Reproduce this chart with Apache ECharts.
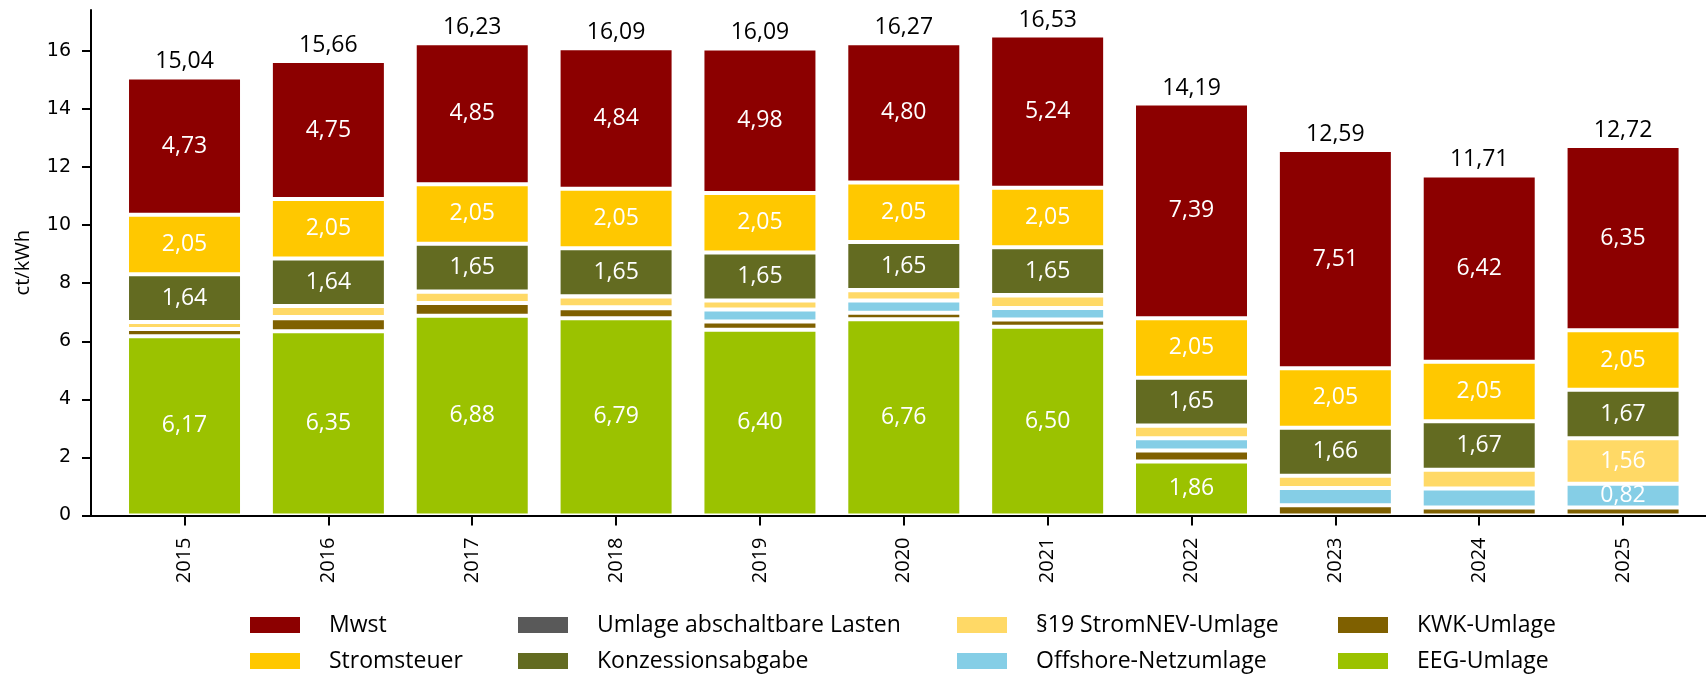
<!DOCTYPE html>
<html>
<head>
<meta charset="utf-8">
<script src="https://cdn.jsdelivr.net/npm/echarts@6/dist/echarts.min.js"></script>
<style>
html,body{margin:0;padding:0;background:#fff;}
#chart{width:1706px;height:676px;}
</style>
</head>
<body>
<div id="chart"></div>
<script>
// ---- data (ct/kWh) ----
const years = ['2015','2016','2017','2018','2019','2020','2021','2022','2023','2024','2025'];
const eegUmlage      = [6.17, 6.35, 6.88, 6.79, 6.40, 6.76, 6.50, 1.86, 0, 0, 0];
const kwkUmlage      = [0.254, 0.445, 0.438, 0.345, 0.280, 0.226, 0.254, 0.378, 0.357, 0.275, 0.277];
const offshoreUmlage = [0, 0.040, 0, 0.037, 0.416, 0.416, 0.395, 0.419, 0.591, 0.656, 0.82];
const stromNEV19     = [0.237, 0.378, 0.388, 0.370, 0.305, 0.358, 0.432, 0.437, 0.417, 0.643, 1.56];
const abschaltbar    = [0.006, 0, 0.006, 0.011, 0.005, 0.007, 0.009, 0.003, 0, 0, 0];
const konzession     = [1.64, 1.64, 1.65, 1.65, 1.65, 1.65, 1.65, 1.65, 1.66, 1.67, 1.67];
const stromsteuer    = [2.05, 2.05, 2.05, 2.05, 2.05, 2.05, 2.05, 2.05, 2.05, 2.05, 2.05];
const mwst           = [4.73, 4.75, 4.85, 4.84, 4.98, 4.80, 5.24, 7.39, 7.51, 6.42, 6.35];
const totals         = [15.04, 15.66, 16.23, 16.09, 16.09, 16.27, 16.53, 14.19, 12.59, 11.71, 12.72];
const yTickValues    = [0, 2, 4, 6, 8, 10, 12, 14, 16];

// ---- styling ----
const idx = years.map((_, i) => i);
const fmt = v => v.toFixed(2).replace('.', ',');
const LABEL_FONT = 'Open Sans';
const Y_MAX = 17.41;

const defs = [
  ['EEG-Umlage', eegUmlage, '#9bc200'],
  ['KWK-Umlage', kwkUmlage, '#7f6000'],
  ['Offshore-Netzumlage', offshoreUmlage, '#85cee6'],
  ['§19 StromNEV-Umlage', stromNEV19, '#ffd966'],
  ['Umlage abschaltbare Lasten', abschaltbar, '#595959'],
  ['Konzessionsabgabe', konzession, '#636b21'],
  ['Stromsteuer', stromsteuer, '#ffc800'],
  ['Mwst', mwst, '#8c0000']
];

const BAR_W = 115;
const series = defs.map(([name, arr, color]) => ({
  name, type: 'bar', stack: 'total', barWidth: BAR_W,
  xAxisIndex: 1, yAxisIndex: 1,
  data: arr.slice(),
  itemStyle: { color, borderColor: '#ffffff', borderWidth: 2 },
  label: {
    show: true, position: 'inside', color: '#ffffff',
    fontFamily: LABEL_FONT, fontSize: 23,
    formatter: p => (p.value >= 0.7 ? fmt(p.value) : '')
  },
  emphasis: { disabled: true }
}));

series.push({
  name: 'Summe', type: 'bar', stack: 'total', barWidth: BAR_W,
  xAxisIndex: 1, yAxisIndex: 1,
  data: idx.map(() => 0),
  itemStyle: { color: 'rgba(0,0,0,0)', borderWidth: 0 },
  label: {
    show: true, position: 'top', distance: 4, color: '#000000',
    fontFamily: LABEL_FONT, fontSize: 23,
    formatter: p => fmt(totals[p.dataIndex])
  },
  silent: true, emphasis: { disabled: true }
});

const legendCommon = {
  orient: 'vertical', top: 613, padding: 0, itemWidth: 50, itemHeight: 16, itemGap: 12,
  icon: 'rect', selectedMode: false,
  itemStyle: { borderWidth: 0 },
  textStyle: { fontFamily: LABEL_FONT, fontSize: 23, color: '#000000', lineHeight: 24, padding: [0, 0, 0, 24] }
};

const option = {
  animation: false,
  backgroundColor: '#ffffff',
  grid: [
    { left: 91, right: 0, top: 10, bottom: 160.5, containLabel: false },
    { left: 112.6, right: 11, top: 10, bottom: 160.5, containLabel: false }
  ],
  legend: [
    Object.assign({ left: 250, data: ['Mwst', 'Stromsteuer'] }, legendCommon),
    Object.assign({ left: 518, data: ['Umlage abschaltbare Lasten', 'Konzessionsabgabe'] }, legendCommon),
    Object.assign({ left: 957, data: ['§19 StromNEV-Umlage', 'Offshore-Netzumlage'] }, legendCommon),
    Object.assign({ left: 1338, data: ['KWK-Umlage', 'EEG-Umlage'] }, legendCommon)
  ],
  xAxis: [
    {
      gridIndex: 0, type: 'value', min: -0.65, max: 10.577, z: 5,
      axisLine: { show: true, onZero: false, lineStyle: { color: '#000000', width: 2 } },
      axisTick: { show: true, length: 10, customValues: idx, lineStyle: { color: '#000000', width: 2 } },
      axisLabel: {
        customValues: idx, rotate: 90, margin: 22,
        fontFamily: LABEL_FONT, fontSize: 20, color: '#000000',
        formatter: v => years[Math.round(v)]
      },
      splitLine: { show: false }
    },
    {
      gridIndex: 1, type: 'category', data: years, boundaryGap: true,
      axisLine: { show: false }, axisTick: { show: false }, axisLabel: { show: false },
      splitLine: { show: false }
    }
  ],
  yAxis: [
    {
      gridIndex: 0, type: 'value', min: 0, max: Y_MAX, interval: 2, z: 5,
      name: 'ct/kWh', nameLocation: 'middle', nameGap: 58,
      nameTextStyle: { fontFamily: LABEL_FONT, fontSize: 20, color: '#000000' },
      axisLine: { show: true, onZero: false, lineStyle: { color: '#000000', width: 2 } },
      axisTick: { show: true, length: 9, customValues: yTickValues, lineStyle: { color: '#000000', width: 2 } },
      axisLabel: { customValues: yTickValues, margin: 20, fontFamily: 'DejaVu Sans', fontSize: 19, color: '#000000' },
      splitLine: { show: false }
    },
    {
      gridIndex: 1, type: 'value', min: 0, max: Y_MAX,
      axisLine: { show: false }, axisTick: { show: false }, axisLabel: { show: false },
      splitLine: { show: false }
    }
  ],
  series
};

const chart = echarts.init(document.getElementById('chart'), null, { renderer: 'canvas' });
chart.setOption(option);
</script>
</body>
</html>
